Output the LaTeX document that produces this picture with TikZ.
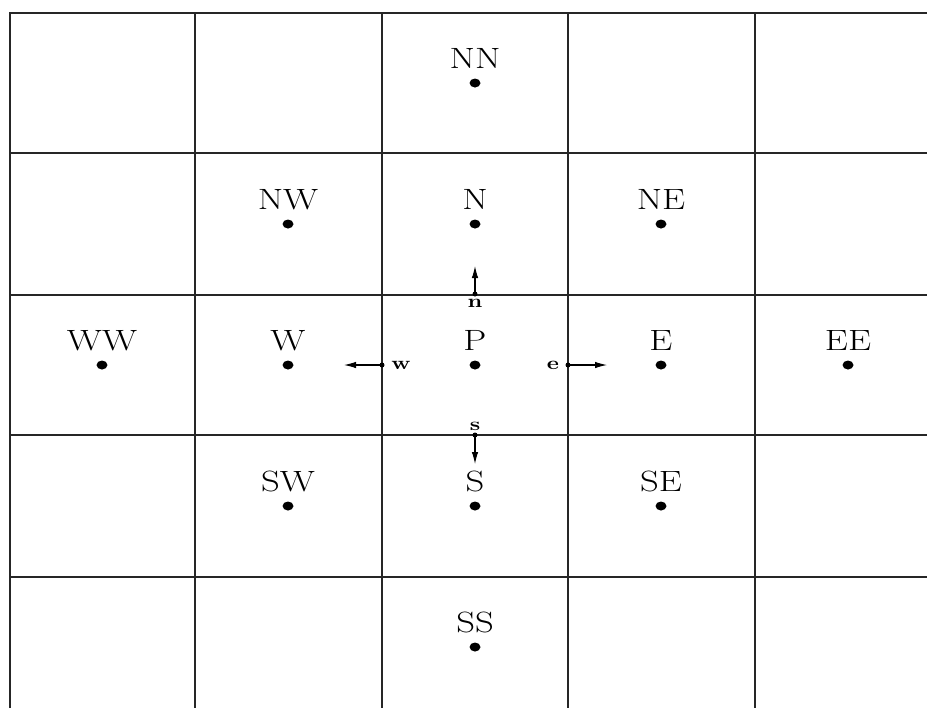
\documentclass[tikz,border=0pt]{standalone}
\usetikzlibrary{arrows.meta,shapes.geometric}
\begin{document}
\begin{tikzpicture}[x=0.02cm,y=-0.02cm,
  gridline/.style={line width=0.65pt,black!85},
  dot/.style={ellipse,fill=black,inner sep=0pt,minimum width=0.22cm,minimum height=0.18cm},
  facedot/.style={circle,fill=black,inner sep=0pt,minimum size=0.1cm},
  big/.style={inner sep=0pt,anchor=base,font=\fontsize{16.7}{20}\selectfont},
  small/.style={inner sep=0pt,anchor=base,font=\fontsize{10.5}{12}\selectfont\bfseries},
  flux/.style={line width=0.6pt,-{Latex[length=0.24cm,width=0.13cm]}}]
\useasboundingbox (0,0) rectangle (927,708);
% grid
\draw[gridline] (10,708) -- (10,13) -- (927,13);
\foreach \x in {195,382,568,755} \draw[gridline] (\x,13) -- (\x,708);
\foreach \y in {153,295,435,577} \draw[gridline] (10,\y) -- (927,\y);
% nodes
\foreach \n/\x/\y in {NN/475/83, NW/288/224, N/475/224, NE/661/224,
  WW/102/365, W/288/365, P/475/365, E/661/365, EE/848/365,
  SW/288/506, S/475/506, SE/661/506, SS/475/647} {
  \node[dot] (\n) at (\x,\y) {};
  \node[big] (\n-lab) at (\x,\y-15) {\scalebox{1.25}[1]{\n}};
}
% faces
\node[facedot] (fn) at (475,294) {};
\node[facedot] (fs) at (475,435) {};
\node[facedot] (fw) at (382,365) {};
\node[facedot] (fe) at (568,365) {};
\coordinate (tn) at (475,266);
\coordinate (ts) at (475,464);
\coordinate (tw) at (344,365);
\coordinate (te) at (607,365);
\draw[flux] (fn.center) -- (tn);
\draw[flux] (fs.center) -- (ts);
\draw[flux] (fw.center) -- (tw);
\draw[flux] (fe.center) -- (te);
\node[small] (ln) at (475,307) {\scalebox{1.25}[1]{n}};
\node[small] (ls) at (475,430) {\scalebox{1.25}[1]{s}};
\node[small] (lw) at (401,369) {\scalebox{1.25}[1]{w}};
\node[small] (le) at (553,369) {\scalebox{1.25}[1]{e}};
\end{tikzpicture}
\end{document}
